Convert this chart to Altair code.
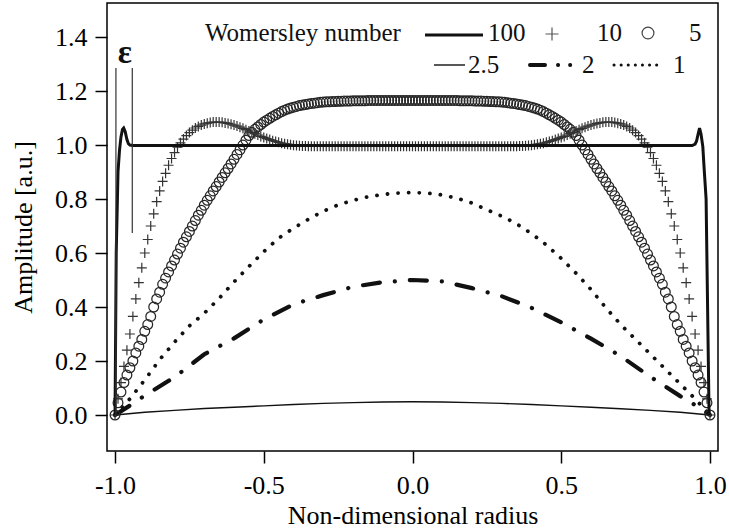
import altair as alt
import pandas as pd

FONT = "Liberation Serif"
FS = 25
TICK_FS = 26

# ---------------- data ----------------
SERIES_NAMES = ["100", "10", "5", "2.5", "2", "1"]
LEGEND_TITLE = "Womersley number"
X_TITLE = "Non-dimensional radius"
Y_TITLE = "Amplitude [a.u.]"
X_TICKS = [-1.0, -0.5, 0.0, 0.5, 1.0]
Y_TICKS = [0.0, 0.2, 0.4, 0.6, 0.8, 1.0, 1.2, 1.4]

# sampling grid of the marker series (step 0.01)
GRID_X = [round(-1 + 0.01 * i, 2) for i in range(201)]

# Womersley 10  (+ markers)
PLUS_10 = [
    0.0, 0.06, 0.12, 0.18, 0.24, 0.30, 0.365, 0.43, 0.49, 0.545,
    0.60, 0.65, 0.70, 0.745, 0.79, 0.83, 0.865, 0.895, 0.925, 0.95,
    0.972, 0.992, 1.008, 1.022, 1.035, 1.046, 1.055, 1.063, 1.069, 1.074,
    1.078, 1.081, 1.083, 1.085, 1.085, 1.085, 1.084, 1.082, 1.08, 1.077,
    1.074, 1.07, 1.066, 1.062, 1.057, 1.052, 1.047, 1.042, 1.037, 1.032,
    1.028, 1.024, 1.02, 1.016, 1.013, 1.01, 1.007, 1.005, 1.003, 1.001,
    0.999, 0.998, 0.997, 0.996, 0.996, 0.995, 0.995, 0.995, 0.995, 0.995,
    0.995, 0.995, 0.995, 0.995, 0.995, 0.995, 0.995, 0.995, 0.995, 0.995,
    0.995, 0.995, 0.995, 0.995, 0.995, 0.995, 0.995, 0.995, 0.995, 0.995,
    0.995, 0.995, 0.995, 0.995, 0.995, 0.995, 0.995, 0.995, 0.995, 0.995,
    0.995,
    0.995, 0.995, 0.995, 0.995, 0.995, 0.995, 0.995, 0.995, 0.995, 0.995,
    0.995, 0.995, 0.995, 0.995, 0.995, 0.995, 0.995, 0.995, 0.995, 0.995,
    0.995, 0.995, 0.995, 0.995, 0.995, 0.995, 0.995, 0.995, 0.995, 0.995,
    0.995, 0.995, 0.995, 0.995, 0.995, 0.996, 0.996, 0.997, 0.998, 0.999,
    1.001, 1.003, 1.005, 1.007, 1.01, 1.013, 1.016, 1.02, 1.024, 1.028,
    1.032, 1.037, 1.042, 1.047, 1.052, 1.057, 1.062, 1.066, 1.07, 1.074,
    1.077, 1.08, 1.082, 1.084, 1.085, 1.085, 1.085, 1.083, 1.081, 1.078,
    1.074, 1.069, 1.063, 1.055, 1.046, 1.035, 1.022, 1.008, 0.992, 0.972,
    0.95, 0.925, 0.895, 0.865, 0.83, 0.79, 0.745, 0.70, 0.65, 0.60,
    0.545, 0.49, 0.43, 0.365, 0.30, 0.24, 0.18, 0.12, 0.06, 0.0,
]

# Womersley 5  (o markers)
CIRC_5 = [
    0.0, 0.045, 0.085, 0.12, 0.148, 0.175, 0.20, 0.23, 0.255, 0.28,
    0.31, 0.335, 0.365, 0.40, 0.43, 0.455, 0.484, 0.507, 0.53, 0.552,
    0.574, 0.596, 0.618, 0.64, 0.66, 0.68, 0.70, 0.72, 0.74, 0.758,
    0.777, 0.795, 0.812, 0.83, 0.846, 0.863, 0.88, 0.897, 0.913, 0.93,
    0.947, 0.965, 0.982, 1.0, 1.018, 1.035, 1.047, 1.058, 1.067, 1.076,
    1.085, 1.092, 1.099, 1.106, 1.112, 1.118, 1.124, 1.129, 1.133, 1.137,
    1.14, 1.143, 1.146, 1.148, 1.15, 1.152, 1.154, 1.155, 1.157, 1.158,
    1.159, 1.16, 1.16, 1.161, 1.161, 1.162, 1.162, 1.163, 1.163, 1.163,
    1.164, 1.164, 1.164, 1.164, 1.164, 1.165, 1.165, 1.165, 1.165, 1.165,
    1.165, 1.165, 1.165, 1.165, 1.165, 1.165, 1.165, 1.165, 1.165, 1.165,
    1.165,
    1.165, 1.165, 1.165, 1.165, 1.165, 1.165, 1.165, 1.165, 1.165, 1.165,
    1.165, 1.165, 1.165, 1.165, 1.165, 1.164, 1.164, 1.164, 1.164, 1.164,
    1.163, 1.163, 1.163, 1.162, 1.162, 1.161, 1.161, 1.16, 1.16, 1.159,
    1.158, 1.157, 1.155, 1.154, 1.152, 1.15, 1.148, 1.146, 1.143, 1.14,
    1.137, 1.133, 1.129, 1.124, 1.118, 1.112, 1.106, 1.099, 1.092, 1.085,
    1.076, 1.067, 1.058, 1.047, 1.035, 1.018, 1.0, 0.982, 0.965, 0.947,
    0.93, 0.913, 0.897, 0.88, 0.863, 0.846, 0.83, 0.812, 0.795, 0.777,
    0.758, 0.74, 0.72, 0.70, 0.68, 0.66, 0.64, 0.618, 0.596, 0.574,
    0.552, 0.53, 0.507, 0.484, 0.455, 0.43, 0.40, 0.365, 0.335, 0.31,
    0.28, 0.255, 0.23, 0.20, 0.175, 0.148, 0.12, 0.085, 0.045, 0.0,
]

# Womersley 100 (thick solid)
X_100 = [-1.0, -0.996, -0.99, -0.985, -0.98, -0.975, -0.971, -0.966, -0.96, -0.955,
         -0.95, -0.94, 0.0, 0.94, 0.95, 0.955, 0.96, 0.965, 0.97, 0.976, 0.98, 0.987, 0.997]
Y_100 = [0.0, 0.6, 0.9, 0.98, 1.03, 1.058, 1.063, 1.05, 1.02, 1.005,
         1.0, 0.998, 0.998, 0.998, 1.003, 1.015, 1.04, 1.063, 1.04, 0.994, 0.92, 0.8, 0.0]

# Womersley 2.5 (thin solid)
X_25 = [-1.0, -0.9, -0.8, -0.7, -0.6, -0.5, -0.4, -0.3, -0.2, -0.1, 0.0,
        0.1, 0.2, 0.3, 0.4, 0.5, 0.6, 0.7, 0.8, 0.9, 1.0]
Y_25 = [0.0, 0.01, 0.017, 0.024, 0.029, 0.034, 0.039, 0.043, 0.046, 0.048, 0.049,
        0.048, 0.046, 0.043, 0.039, 0.034, 0.029, 0.023, 0.017, 0.01, 0.0]

# Womersley 2 (dash-dot)
X_2 = [-1.0, -0.95, -0.9, -0.8, -0.7, -0.6, -0.5, -0.4, -0.3, -0.2, -0.1, 0.0,
       0.1, 0.2, 0.3, 0.4, 0.5, 0.6, 0.7, 0.8, 0.9, 0.95, 1.0]
Y_2 = [0.0, 0.035, 0.072, 0.14, 0.225, 0.284, 0.354, 0.41, 0.444, 0.475, 0.492, 0.5,
       0.495, 0.47, 0.44, 0.397, 0.343, 0.283, 0.218, 0.141, 0.07, 0.037, 0.0]

# Womersley 1 (dotted)
X_1 = [-1.0, -0.95, -0.9, -0.85, -0.8, -0.75, -0.7, -0.65, -0.6, -0.55, -0.5,
       -0.45, -0.4, -0.35, -0.3, -0.25, -0.2, -0.15, -0.1, -0.05, 0.0,
       0.05, 0.1, 0.15, 0.2, 0.25, 0.3, 0.35, 0.4, 0.45, 0.5,
       0.55, 0.6, 0.65, 0.7, 0.75, 0.8, 0.85, 0.9, 0.95, 1.0]
Y_1 = [0.0, 0.06, 0.13, 0.205, 0.27, 0.33, 0.377, 0.432, 0.493, 0.55, 0.605,
       0.655, 0.692, 0.725, 0.755, 0.778, 0.795, 0.808, 0.817, 0.822, 0.824,
       0.822, 0.815, 0.803, 0.785, 0.76, 0.737, 0.708, 0.672, 0.63, 0.58,
       0.525, 0.465, 0.397, 0.335, 0.28, 0.225, 0.17, 0.115, 0.06, 0.0]

# epsilon annotation (boundary layer thickness)
EPS_LABEL = "ε"
EPS_X = [-0.997, -0.942]
EPS_Y_TOP = [1.285, 1.285]
EPS_Y_BOTTOM = [0.0, 0.674]
EPS_TEXT_X = [-0.967]
EPS_TEXT_Y = [1.305]

# ---------------- encodings ----------------
X_DOMAIN = [-1.027, 1.027]
Y_DOMAIN = [-0.1333, 1.526]

x_axis = alt.Axis(
    values=X_TICKS, grid=False, domain=False, ticks=True, tickSize=12, tickWidth=1.5,
    tickColor="black", labelFont=FONT, labelFontSize=TICK_FS, labelColor="black",
    labelPadding=9, labelExpr="(datum.value < 0 ? '-' : '') + format(abs(datum.value), '.1f')",
    title=X_TITLE, titleFont=FONT, titleFontSize=FS + 1, titleFontWeight="normal",
    titleColor="black", titleBaseline="alphabetic", titleY=72,
)
y_axis = alt.Axis(
    values=Y_TICKS, grid=False, domain=False, ticks=True, tickSize=12, tickWidth=1.5,
    tickColor="black", labelFont=FONT, labelFontSize=TICK_FS, labelColor="black",
    labelPadding=8, labelExpr="format(datum.value, '.1f')",
    title=Y_TITLE, titleFont=FONT, titleFontSize=FS + 1, titleFontWeight="normal",
    titleColor="black", titleBaseline="alphabetic", titleX=-76, titleY=224,
)

X = alt.X("x:Q", scale=alt.Scale(domain=X_DOMAIN, nice=False, zero=False), axis=x_axis)
Y = alt.Y("y:Q", scale=alt.Scale(domain=Y_DOMAIN, nice=False, zero=False), axis=y_axis)


def df(xs, ys):
    return pd.DataFrame({"x": xs, "y": ys})


INK = "#111111"

thin = alt.Chart(df(X_25, Y_25)).mark_line(color=INK, strokeWidth=1.4).encode(x=X, y=Y)
dashdot = alt.Chart(df(X_2, Y_2)).mark_line(
    color=INK, strokeWidth=4.2, strokeDash=[17, 15, 0.1, 15], strokeCap="round"
).encode(x=X, y=Y)
dotted = alt.Chart(df(X_1, Y_1)).mark_line(
    color=INK, strokeWidth=3.8, strokeDash=[0.1, 10.5], strokeCap="round"
).encode(x=X, y=Y)
circles = alt.Chart(df(GRID_X, CIRC_5)).mark_point(
    shape="circle", filled=False, size=95, strokeWidth=1.25, color="#262626", opacity=1
).encode(x=X, y=Y)
PLUS_PATH = "M-1,0L1,0M0,-1L0,1"
plus = alt.Chart(df(GRID_X, PLUS_10)).mark_point(
    shape=PLUS_PATH, filled=False, size=100, strokeWidth=1.2, color="#333333", opacity=1
).encode(x=X, y=Y)
thick = alt.Chart(df(X_100, Y_100)).mark_line(color=INK, strokeWidth=3).encode(x=X, y=Y)

eps_df = pd.DataFrame({"x": EPS_X, "y": EPS_Y_TOP, "y2": EPS_Y_BOTTOM})
eps_lines = alt.Chart(eps_df).mark_rule(color="#333333", strokeWidth=1.2).encode(
    x=X, y=Y, y2="y2:Q"
)
eps_text = alt.Chart(df(EPS_TEXT_X, EPS_TEXT_Y)).mark_text(
    text=EPS_LABEL, font=FONT, fontSize=33, fontWeight="bold", color=INK,
    baseline="alphabetic", align="center"
).encode(x=X, y=Y)

# ---------------- legend (drawn in the top-right corner) ----------------
one = pd.DataFrame({"k": [0]})


def ltext(label, px, py):
    return alt.Chart(one).mark_text(
        text=label, font=FONT, fontSize=FS, color=INK, align="left", baseline="alphabetic"
    ).encode(x=alt.value(px), y=alt.value(py))


def lrule(px1, px2, py, **kw):
    return alt.Chart(one).mark_rule(color=INK, **kw).encode(
        x=alt.value(px1), x2=alt.value(px2), y=alt.value(py)
    )


ROW1 = 38
ROW2 = 70
legend = [
    ltext(LEGEND_TITLE, 98, ROW1),
    lrule(318, 376, ROW1 - 6, strokeWidth=3),
    ltext(SERIES_NAMES[0], 381, ROW1),
    alt.Chart(one).mark_point(shape=PLUS_PATH, filled=False, size=170, strokeWidth=1.2,
                              color="#555555", opacity=1).encode(x=alt.value(445), y=alt.value(ROW1 - 7)),
    ltext(SERIES_NAMES[1], 490, ROW1),
    alt.Chart(one).mark_point(shape="circle", filled=False, size=140, strokeWidth=1.2,
                              color="#444444", opacity=1).encode(x=alt.value(541), y=alt.value(ROW1 - 8)),
    ltext(SERIES_NAMES[2], 582, ROW1),
    lrule(327, 358, ROW2 - 8, strokeWidth=1.4),
    ltext(SERIES_NAMES[3], 361, ROW2),
    lrule(423, 468, ROW2 - 8, strokeWidth=4, strokeCap="round",
          strokeDash=[15, 13, 0.1, 12, 0.1, 100]),
    ltext(SERIES_NAMES[4], 475, ROW2),
    lrule(507, 556, ROW2 - 8, strokeWidth=3, strokeCap="round", strokeDash=[0.1, 7]),
    ltext(SERIES_NAMES[5], 566, ROW2),
]

chart = alt.layer(
    thin, dashdot, dotted, circles, plus, thick, eps_lines, eps_text, *legend
).properties(
    width=611,
    height=448,
    padding={"left": 107, "top": 3, "right": 11, "bottom": 81},
    autosize=alt.AutoSizeParams(type="none"),
    background="white",
).configure_view(stroke="black", strokeWidth=1.5)

chart.save("out.html", embed_options={"renderer": "svg", "actions": False})
